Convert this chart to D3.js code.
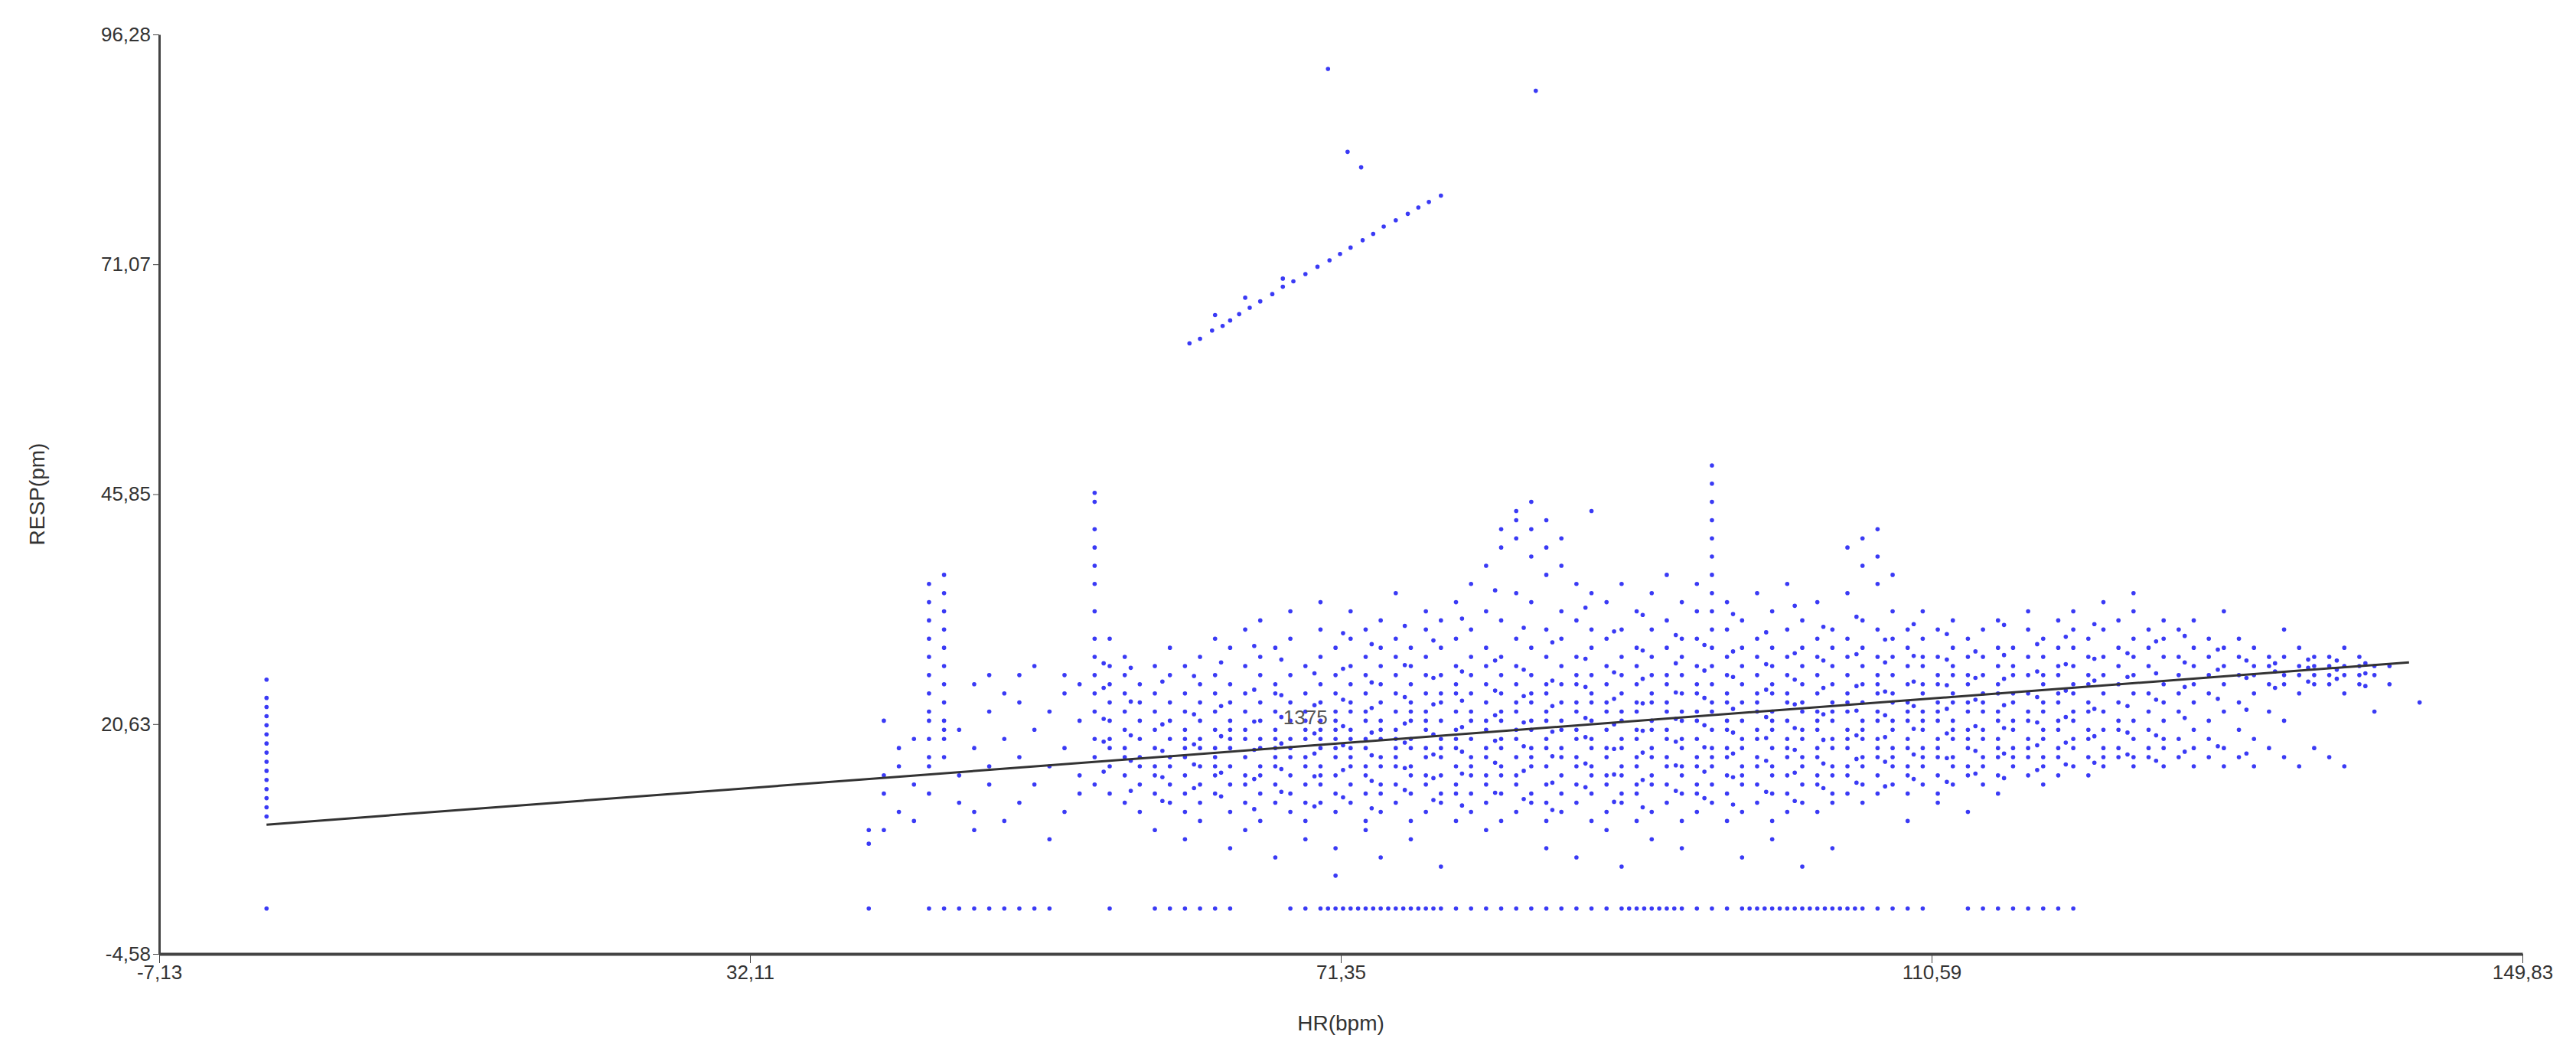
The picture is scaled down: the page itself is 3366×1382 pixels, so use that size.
<!DOCTYPE html>
<meta charset="utf-8">
<style>
body { margin: 0; background: #fff; }
.axis path, .axis line { stroke: #444; }
.axis text { font-family: Arial, "Liberation Sans", sans-serif; font-size: 26px; fill: #333; }
.dot { fill: #3a3af5; }
</style>
<head>
  <script src="https://d3js.org/d3.v7.min.js"></script>
</head>
<svg width="3366" height="1382"></svg>
<script>

var xTicks = [-7.13, 32.11, 71.35, 110.59, 149.83],
    yTicks = [-4.58, 20.63, 45.85, 71.07, 96.28];

// columns of points: [HR, [RESP values]]
var cloud = [
  [0, [10.5,11.5,12.5,13.5,14.5,15.5,16.5,17.5,18.5,19.5,20.5,21.5,22.5,23.5,25.5]],
  [40, [7.5,9]], [41, [9,13,15,21]], [42, [11,16,18]], [43, [14,10,19]],
  [44, [13,16,17,19,21,22,24,26,28,30,32,34,36]], [45, [17,19,20,21,23,25,27,29,31,33,35,37]],
  [46, [12,15,20]], [47, [9,11,18,25]], [48, [14,22,26,16]], [49, [10,19,24]], [50, [12,17,26,23]],
  [51, [14,20,27]], [52, [8,16,22]], [53, [11,18,24,26]], [54, [15,21,25,13]],
  [55, [14,17,19,22,24,26,28,30,33,36,38,40,42,45,46]], [56, [13,16,18,19,21,23,25,27,30]],
  [57, [12,15,17,18,20,22,24,26,28]], [58, [14,16,17,19,21,23,25,11]],
  [59, [13,15,16,18,20,22,24,27,9]], [60, [12,14,16,17,19,21,23,26,29]],
  [61, [11,13,15,17,18,19,20,22,24,27,8]], [62, [12,14,16,18,19,21,23,25,28,10]],
  [63, [13,15,16,17,18,20,22,24,26,30]], [64, [11,14,16,18,19,20,21,23,25,29,7]],
  [65, [12,14,15,17,19,20,22,24,27,31,9]], [66, [10,13,15,16,18,19,21,23,26,28,32]],
  [67, [12,14,16,17,18,19,20,22,24,25,29,6]], [68, [11,13,15,17,18,19,21,23,26,30,33]],
  [69, [10,12,14,16,17,19,20,21,22,24,27,8]], [70, [12,14,15,16,18,19,20,21,23,25,28,31,34]],
  [71, [11,13,15,17,18,19,20,21,22,24,26,29,7,4]], [72, [12,14,16,17,18,19,20,22,23,25,27,30,33]],
  [73, [10,13,15,16,18,19,21,22,24,26,28,31,9]], [74, [11,13,14,16,17,19,20,21,23,25,27,29,32,6]],
  [75, [12,14,16,17,18,19,20,22,24,26,28,30,35]], [76, [10,13,15,16,18,19,21,22,23,25,27,29,8]],
  [77, [11,14,15,17,18,20,21,22,24,26,28,31,33]], [78, [12,13,15,17,18,19,21,23,24,26,29,32,5]],
  [79, [10,13,14,16,18,19,20,22,24,25,27,30,34]], [80, [11,13,15,16,17,19,21,22,24,26,28,31,36]],
  [81, [12,14,15,17,18,20,21,23,25,27,29,33,38,9]], [82, [10,13,15,16,18,19,21,22,24,26,28,32,40,42]],
  [83, [11,14,15,17,19,20,22,23,25,27,30,35,41,43,44]], [84, [12,13,16,17,18,20,21,23,24,26,29,34,39,42,45]],
  [85, [10,12,14,16,18,19,21,22,24,25,28,31,37,40,43,7]], [86, [11,13,15,17,18,20,21,23,25,27,30,33,38,41]],
  [87, [12,14,16,17,19,20,22,23,25,26,28,32,36,6]], [88, [10,13,15,16,18,19,21,23,24,26,29,31,35,44]],
  [89, [11,14,15,17,18,20,22,23,25,27,30,34,9]], [90, [12,13,15,16,18,19,21,22,24,26,28,31,36,5]],
  [91, [10,13,14,16,17,19,20,22,23,25,27,29,33]], [92, [11,14,15,17,18,20,21,23,24,26,28,31,35,8]],
  [93, [12,14,16,17,19,20,22,23,25,26,29,32,37]], [94, [10,13,15,16,18,19,21,22,24,26,28,30,34,7]],
  [95, [11,13,14,16,17,19,21,22,24,25,27,30,33,36]],
  [96, [12,14,16,17,18,20,22,23,25,27,29,31,33,35,37,39,41,43,45,47,49]],
  [97, [10,13,15,17,18,20,21,23,24,26,28,31,34]], [98, [11,14,15,16,18,19,21,23,25,27,29,32,6]],
  [99, [12,14,16,17,19,20,22,23,24,26,28,30,35]], [100, [10,13,15,16,18,20,21,22,24,25,27,29,33,8]],
  [101, [11,13,15,17,18,19,21,23,24,26,28,31,36]], [102, [12,14,16,17,19,20,22,23,25,27,29,32,5]],
  [103, [11,14,15,17,18,20,21,22,24,26,28,30,34]], [104, [12,13,15,16,18,19,21,22,23,25,27,29,31,7]],
  [105, [13,15,16,18,19,20,22,23,24,26,28,30,35,40]], [106, [12,14,16,17,19,20,21,23,25,27,29,32,38,41]],
  [107, [13,15,17,18,19,21,22,24,25,26,28,31,36,39,42]], [108, [14,16,17,18,20,21,23,24,26,28,30,33,37]],
  [109, [13,15,16,18,19,21,22,23,25,27,29,31,10]], [110, [14,16,17,18,20,21,22,24,25,27,28,30,33]],
  [111, [13,15,17,18,19,21,22,23,25,26,28,31,12]], [112, [14,16,17,19,20,21,23,24,26,27,29,32]],
  [113, [15,16,18,19,20,22,23,25,26,28,30,11]], [114, [14,16,17,19,20,22,23,24,26,28,31]],
  [115, [15,17,18,19,21,22,24,25,27,29,32,13]], [116, [16,17,18,20,21,23,24,26,27,29]],
  [117, [15,17,18,19,21,22,24,26,28,31,33]], [118, [16,17,19,20,22,23,25,26,28,30,14]],
  [119, [15,17,18,20,21,23,24,26,27,29,32]], [120, [16,18,19,21,22,24,25,27,29,31,33]],
  [121, [15,17,19,20,22,23,25,26,28,30]], [122, [16,17,18,20,22,24,26,28,31,34]],
  [123, [17,18,20,21,23,25,27,29,32]], [124, [16,17,19,21,24,26,28,30,33,35]],
  [125, [17,18,20,22,24,27,29,31]], [126, [16,18,19,21,23,25,28,30,32]],
  [127, [17,19,22,24,26,28,31]], [128, [16,18,20,23,25,27,29,32]],
  [129, [17,19,21,24,26,28,30]], [130, [16,18,22,25,27,29,33]],
  [131, [17,20,23,26,28,30]], [132, [16,19,24,26,27,29]], [133, [18,22,25,27,28]],
  [134, [17,21,25,26,28,31]], [135, [16,24,26,27,29]], [136, [18,25,26,27,28]],
  [137, [17,25,26,27,28]], [138, [16,24,26,27,29]], [139, [25,26,27,28]], [140, [22,26,27]],
  [141, [25,27]], [143, [23]]
];

// second pass of the dense part, read between the whole-number columns
var cloudMid = [
  [55.6, [15.4,18.7,21.2,24.6,27.3]], [57.4, [13.3,16.6,19.4,23.1,26.8]], [59.5, [12.2,14.8,17.7,20.6,25.3]],
  [61.6, [13.6,16.2,18.4,21.7,25.9]], [63.4, [12.7,15.3,19.3,22.6,27.4]], [65.6, [11.3,14.6,17.8,20.9,24.4,29.2]],
  [67.4, [13.2,15.7,18.5,21.4,23.8,27.7]], [69.6, [11.6,14.9,17.4,19.6,22.7,26.2]],
  [71.5, [12.6,15.6,18.3,20.4,23.3,26.7,30.6]], [73.4, [11.4,14.4,17.2,19.7,22.4,25.2,29.4]],
  [75.6, [13.4,15.8,18.6,20.7,23.6,27.1,31.4]], [77.5, [12.3,14.7,17.3,19.5,22.8,25.7,29.8]],
  [79.4, [11.7,15.2,17.6,20.3,23.2,26.4,32.2]], [81.6, [13.1,16.4,18.8,21.6,24.3,27.6,35.3]],
  [83.5, [12.4,15.5,18.2,20.8,23.7,26.6,31.2]], [85.4, [11.2,14.2,17.1,19.8,22.6,25.4,29.6]],
  [87.6, [13.7,16.3,19.2,21.3,24.7,27.8,33.4]], [89.5, [12.1,15.1,17.9,20.6,23.4,26.3,30.8]],
  [91.4, [11.5,14.5,17.5,19.9,22.9,25.6,28.7,32.6]], [93.6, [13.3,16.1,18.7,21.2,24.1,27.3,30.4]],
  [95.5, [12.5,15.4,18.1,20.5,23.5,26.5,29.3]], [97.4, [11.8,14.8,17.4,19.7,22.3,25.8,28.6,32.7]],
  [99.6, [13.2,16.6,19.1,21.4,24.4,27.2,30.7]], [101.5, [12.2,15.3,17.8,20.2,22.8,25.5,28.4,33.6]],
  [103.4, [13.6,16.3,18.9,21.7,24.6,27.6,31.3]], [105.6, [14.2,16.8,19.4,22.1,24.8,28.3,32.4]],
  [107.5, [13.8,16.5,19.2,21.6,24.2,27.4,29.9]], [109.4, [14.6,17.3,20.1,22.6,25.3,28.1,31.6]],
  [111.6, [14.3,16.9,19.6,22.3,24.9,27.7,30.5]], [113.5, [15.2,17.7,20.4,23.3,25.7,28.6]],
  [115.4, [14.7,17.4,20.2,22.7,25.6,28.2,31.5]], [117.6, [15.6,18.3,20.8,23.6,26.4,29.4]],
  [119.5, [16.2,18.6,21.4,24.3,27.2,30.2]], [121.4, [16.4,19.3,22.3,25.4,27.8,31.6]],
  [123.6, [17.3,19.7,22.6,25.8,28.4]], [125.5, [16.6,19.4,23.3,26.2,29.7]],
  [127.4, [17.6,21.3,24.7,27.4,30.3]], [129.6, [18.2,23.4,26.6,28.8]], [131.5, [17.4,22.2,25.7,27.6]],
  [133.4, [24.6,26.4,27.3]], [135.6, [25.3,26.8,27.7]], [137.5, [25.6,26.6,27.6]], [139.4, [24.8,26.2,27.3]]
];

// the flat row at RESP 0
var zeroRow = [0, 40, 44, 45, 46, 47, 48, 49, 50, 51, 52, 56, 59, 60, 61, 62, 63, 64, 68, 69, 70,
  70.5, 71, 71.5, 72, 72.5, 73, 73.5, 74, 74.5, 75, 75.5, 76, 76.5, 77, 77.5, 78, 79, 80, 81, 82, 83,
  84, 85, 86, 87, 88, 89, 90, 90.5, 91, 91.5, 92, 92.5, 93, 93.5, 94, 95, 96, 97, 98, 98.5, 99, 99.5,
  100, 100.5, 101, 101.5, 102, 102.5, 103, 103.5, 104, 104.5, 105, 105.5, 106, 107, 108, 109, 110,
  113, 114, 115, 116, 117, 118, 119, 120];

// the upper streak and outliers
var upperX = [61.3, 62, 62.8, 63.5, 64, 64.6, 65.3, 66, 66.8, 67.5, 68.2, 69, 69.8, 70.6, 71.3, 72, 72.8, 73.5, 74.2, 75, 75.8, 76.5, 77.2, 78, 63, 65, 67.5, 70.5, 71.8, 72.7, 84.3],
    upperY = [62.4, 62.9, 63.8, 64.3, 64.9, 65.6, 66.3, 67, 67.8, 68.6, 69.2, 70, 70.8, 71.5, 72.2, 72.9, 73.7, 74.4, 75.2, 75.9, 76.6, 77.3, 77.9, 78.6, 65.5, 67.4, 69.5, 92.5, 83.4, 81.7, 90.1];

var fitX = [0, 142.3], fitY = [9.6, 27.4];
var fitLabel = "1375", labelX = 69, labelY = 20.6;

var points = [];
cloud.concat(cloudMid).forEach(function(c) { c[1].forEach(function(v) { points.push([c[0], v]); }); });
zeroRow.forEach(function(v) { points.push([v, 0.4]); });
upperX.forEach(function(v, i) { points.push([v, upperY[i]]); });

var svg = d3.select("svg"),
    margin = {top: 45, right: 70, bottom: 136, left: 208},
    width = +svg.attr("width") - margin.left - margin.right,
    height = +svg.attr("height") - margin.top - margin.bottom;

var x = d3.scaleLinear().domain([-7.13, 149.83]).range([0, width]),
    y = d3.scaleLinear().domain([-4.58, 96.28]).range([height, 0]);

var fmt = function(d) { return d.toFixed(2).replace(".", ","); };

var g = svg.append("g")
    .attr("transform", "translate(" + margin.left + "," + margin.top + ")");

g.selectAll(".dot")
  .data(points)
  .enter().append("circle")
    .attr("class", "dot")
    .attr("cx", function(d) { return x(d[0]); })
    .attr("cy", function(d) { return y(d[1]); })
    .attr("r", 2.8);

g.append("line")
    .attr("x1", x(fitX[0])).attr("y1", y(fitY[0]))
    .attr("x2", x(fitX[1])).attr("y2", y(fitY[1]))
    .attr("stroke", "#333").attr("stroke-width", 3);

g.append("text")
    .attr("x", x(labelX)).attr("y", y(labelY))
    .attr("text-anchor", "middle")
    .style("font-family", "Arial, sans-serif").style("font-size", "26px").style("fill", "#555")
    .text(fitLabel);

g.append("g")
    .attr("class", "axis")
    .attr("transform", "translate(0," + height + ")")
    .call(d3.axisBottom(x).tickValues(xTicks).tickFormat(fmt).tickSize(12).tickSizeOuter(0))
    .select("path").attr("stroke-width", 4);

g.append("g")
    .attr("class", "axis")
    .call(d3.axisLeft(y).tickValues(yTicks).tickFormat(fmt).tickSize(8).tickSizeOuter(0))
    .select("path").attr("stroke-width", 3);

g.append("text")
    .attr("x", width / 2).attr("y", height + 100)
    .attr("text-anchor", "middle")
    .style("font-family", "Arial, sans-serif").style("font-size", "28px").style("fill", "#333")
    .text("HR(bpm)");

g.append("text")
    .attr("transform", "rotate(-90)")
    .attr("x", -height / 2).attr("y", -150)
    .attr("text-anchor", "middle")
    .style("font-family", "Arial, sans-serif").style("font-size", "28px").style("fill", "#333")
    .text("RESP(pm)");

</script>
